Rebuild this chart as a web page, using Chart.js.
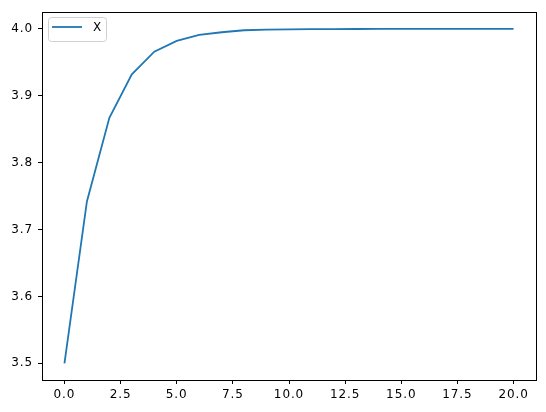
<!DOCTYPE html>
<html>
<head>
<meta charset="utf-8">
<script src="https://cdn.jsdelivr.net/npm/chart.js@4.4.0/dist/chart.umd.min.js"></script>
<style>
  html, body { margin: 0; padding: 0; background: #fff; }
  #wrap { width: 546px; height: 412px; }
</style>
</head>
<body>
<div id="wrap"><canvas id="chart" width="546" height="412"></canvas></div>
<script>
// data
const xValues = [0, 1, 2, 3, 4, 5, 6, 7, 8, 9, 10, 11, 12, 13, 14, 15, 16, 17, 18, 19, 20];
const yValues = [3.5, 3.742, 3.867, 3.932, 3.966, 3.982, 3.991, 3.995, 3.998, 3.999, 3.9994,
  3.9997, 3.9998, 3.9999, 4.0, 4.0, 4.0, 4.0, 4.0, 4.0, 4.0];
const seriesLabel = 'X';
const xTicks = [0, 2.5, 5, 7.5, 10, 12.5, 15, 17.5, 20];
const yTicks = [3.5, 3.6, 3.7, 3.8, 3.9, 4.0];

const FONT = "'DejaVu Sans', sans-serif";
const LINE = '#1f77b4';

// wider tracking, like the reference font
const spacingPlugin = {
  id: 'spacing',
  beforeLayout(chart) { chart.ctx.letterSpacing = '0.9px'; },
  beforeDraw(chart) { chart.ctx.letterSpacing = '0.9px'; }
};

// frame around the plot area + legend inside upper left
const framePlugin = {
  id: 'frame',
  afterDraw(chart) {
    const { ctx, chartArea: a } = chart;
    ctx.save();
    ctx.strokeStyle = '#000';
    ctx.lineWidth = 1;
    ctx.strokeRect(Math.round(a.left) + 0.5, Math.round(a.top) + 0.5,
      Math.round(a.right - a.left), Math.round(a.bottom - a.top));

    // legend box
    const bx = 48.5, by = 17.5, bw = 58, bh = 24;
    ctx.fillStyle = 'rgba(255,255,255,0.8)';
    ctx.strokeStyle = '#d0d0d0';
    ctx.beginPath();
    ctx.roundRect(bx, by, bw, bh, 3);
    ctx.fill();
    ctx.stroke();
    ctx.strokeStyle = LINE;
    ctx.lineWidth = 1.8;
    ctx.beginPath();
    ctx.moveTo(52, 27);
    ctx.lineTo(82, 27);
    ctx.stroke();
    ctx.fillStyle = '#000';
    ctx.font = '12px ' + FONT;
    ctx.textBaseline = 'middle';
    ctx.fillText(chart.data.datasets[0].label, 93, 28);
    ctx.restore();
  }
};

new Chart(document.getElementById('chart').getContext('2d'), {
  type: 'line',
  data: {
    datasets: [{
      label: seriesLabel,
      data: xValues.map((x, i) => ({ x, y: yValues[i] })),
      borderColor: LINE,
      borderWidth: 1.8,
      pointRadius: 0,
      tension: 0,
      fill: false,
    }],
  },
  options: {
    responsive: false,
    animation: false,
    layout: { padding: { top: 10, right: 10, left: 0, bottom: 0 } },
    plugins: { legend: { display: false }, tooltip: { enabled: false } },
    scales: {
      x: {
        type: 'linear',
        min: -1,
        max: 21,
        afterBuildTicks: s => { s.ticks = xTicks.map(v => ({ value: v })); },
        afterFit: s => { s.height = 32; },
        grid: { drawOnChartArea: false, tickLength: 4, color: '#000', tickColor: '#000' },
        border: { display: false },
        ticks: {
          color: '#000',
          padding: 4,
          maxRotation: 0,
          autoSkip: false,
          font: { size: 12, family: FONT },
          callback: v => v.toFixed(1),
        },
      },
      y: {
        type: 'linear',
        min: 3.475,
        max: 4.025,
        afterBuildTicks: s => { s.ticks = yTicks.map(v => ({ value: v })); },
        afterFit: s => { s.width = 42; },
        grid: { drawOnChartArea: false, tickLength: 4, color: '#000', tickColor: '#000' },
        border: { display: false },
        ticks: {
          color: '#000',
          padding: 5,
          autoSkip: false,
          font: { size: 12, family: FONT },
          callback: v => v.toFixed(1),
        },
      },
    },
  },
  plugins: [spacingPlugin, framePlugin],
});
</script>
</body>
</html>
